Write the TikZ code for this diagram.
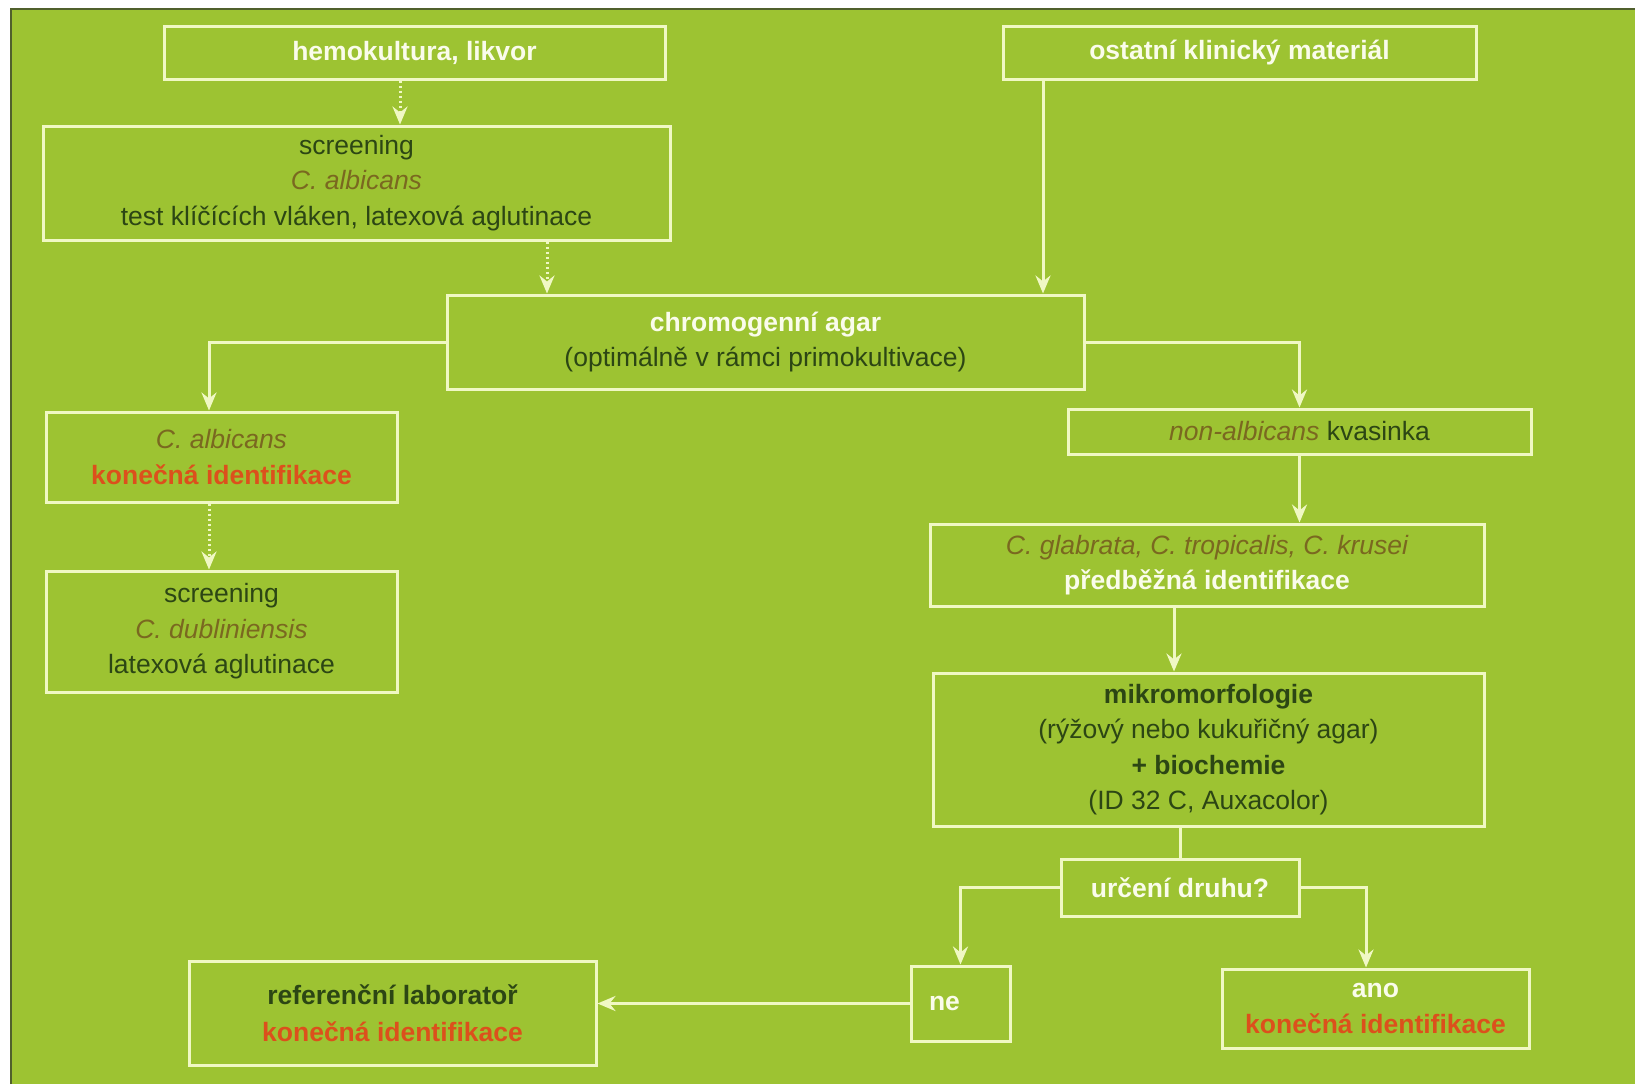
\documentclass[tikz,border=0pt]{standalone}
\usepackage{fontspec}
\setmainfont{Liberation Sans}
\usepackage{xcolor}
\usepackage{tikz}
\usetikzlibrary{arrows.meta,positioning,calc}

\definecolor{bggreen}{RGB}{157,195,50}
\definecolor{boxline}{RGB}{240,248,196}
\definecolor{txtdark}{RGB}{44,70,20}
\definecolor{spolive}{RGB}{122,104,32}
\definecolor{finorange}{RGB}{220,80,28}
\definecolor{txtwhite}{RGB}{250,252,235}
\definecolor{edgeline}{RGB}{80,96,44}

\newcommand{\druh}[1]{\textcolor{spolive}{\itshape #1}}
\newcommand{\konecna}[1]{\textcolor{finorange}{\bfseries #1}}
\newcommand{\bila}[1]{\textcolor{txtwhite}{\bfseries #1}}

\begin{document}
\begin{tikzpicture}[
            x=1pt, y=-1pt,
            every node/.style={font=\fontsize{26.5}{35.5}\selectfont, text=txtdark},
            bx/.style={draw=boxline, line width=3pt, align=center, inner sep=0pt},
            ln/.style={draw=boxline, line width=3pt},
            arr/.style={ln, -{Stealth[length=18pt,width=15pt,inset=6pt]}},
            dotarr/.style={arr, dash pattern=on 2.5pt off 2.5pt},
        ]
            \useasboundingbox (0,0) rectangle (1635,1087);
            \fill[white] (0,0) rectangle (1635,1087);
            \fill[bggreen] (11,9) rectangle (1635,1084);
            \draw[edgeline, line width=2.5pt] (11,1084) -- (11,9) -- (1635,9);
            % left branch
            \node[bx, minimum width=501pt, minimum height=53pt] (hemo) at (414.5,52.5) {\bila{hemokultura, likvor}};
            \node[bx, minimum width=627pt, minimum height=114pt] (scr1) at (356.5,183) {screening\\\druh{C. albicans}\\test klíčících vláken, latexová aglutinace};
            \node[bx, minimum width=351pt, minimum height=90pt] (alb) at (221.5,457) {\druh{C. albicans}\\\konecna{konečná identifikace}};
            \node[bx, minimum width=351pt, minimum height=121pt] (dubl) at (221.5,631.5) {screening\\\druh{C. dubliniensis}\\latexová aglutinace};
            % middle
            \node[bx, minimum width=473pt, minimum height=53pt] (ostat) at (1239.5,52.5) {\bila{ostatní klinický materiál}};
            \node[bx, minimum width=637pt, minimum height=94pt] (chrom) at (765.5,342) {\bila{chromogenní agar}\\(optimálně v rámci primokultivace)};
            % right branch
            \node[bx, minimum width=463pt, minimum height=45pt] (nonalb) at (1299.5,431.5) {\druh{non-albicans} kvasinka};
            \node[bx, minimum width=554pt, minimum height=82pt] (glab) at (1207,565) {\druh{C. glabrata, C. tropicalis, C. krusei}\\\bila{předběžná identifikace}};
            \node[bx, minimum width=551pt, minimum height=153pt] (mikro) at (1208.5,749.5) {\textbf{mikromorfologie}\\(rýžový nebo kukuřičný agar)\\\textbf{+ biochemie}\\(ID 32 C, Auxacolor)};
            \node[bx, minimum width=238pt, minimum height=57pt] (urc) at (1180,887.5) {\bila{určení druhu?}};
            \node[bx, minimum width=99pt, minimum height=75pt, align=left, text width=63pt, inner xsep=18pt] (ne) at (960.5,1003.5) {\bila{ne}};
            \node[bx, minimum width=307pt, minimum height=79pt] (ano) at (1375.5,1008.5) {\bila{ano}\\\konecna{konečná identifikace}};
            \node[bx, minimum width=407pt, minimum height=104pt] (ref) at (392.5,1013) {\textbf{referenční laboratoř}\\[2pt]\konecna{konečná identifikace}};
            % connectors
            \draw[dotarr] ($(hemo.south)+(-14.5,0)$) -- ($(hemo.south |- scr1.north)+(-14.5,0)$);
            \draw[dotarr] ($(scr1.south)+(190.5,0)$) -- ($(scr1.south |- chrom.north)+(190.5,0)$);
            \draw[arr] ($(ostat.south)+(-196.5,0)$) -- ($(ostat.south |- chrom.north)+(-196.5,0)$);
            \draw[arr] (chrom.west) -| ($(alb.north)+(-12.5,0)$);
            \draw[dotarr] ($(alb.south)+(-12.5,0)$) -- ($(alb.south |- dubl.north)+(-12.5,0)$);
            \draw[arr] (chrom.east) -| (nonalb.north);
            \draw[arr] (nonalb.south) -- (nonalb.south |- glab.north);
            \draw[arr] ($(glab.south)+(-33,0)$) -- ($(glab.south |- mikro.north)+(-33,0)$);
            \draw[ln] (mikro.south -| urc.north) -- (urc.north);
            \draw[arr] (urc.west) -| (ne.north);
            \draw[arr] (urc.east) -| ($(ano.north)+(-9.5,0)$);
            \draw[arr] (ne.west) -- (ne.west -| ref.east);
        \end{tikzpicture}
\end{document}
